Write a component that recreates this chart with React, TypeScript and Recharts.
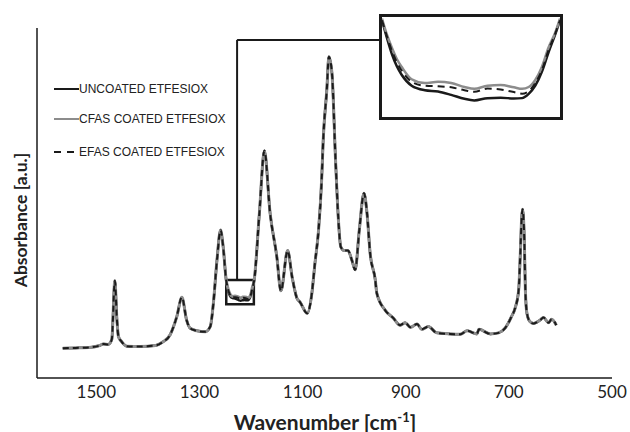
import React from "react";
import {
  LineChart,
  Line,
  XAxis,
  YAxis,
  ReferenceArea,
  ReferenceLine,
} from "recharts";

// shared spectrum (all three samples overlap outside the zoomed window)
const wavenumbers = [
  1565, 1540, 1510, 1495, 1486, 1477, 1470, 1464, 1460, 1457, 1451, 1441, 1415,
  1385, 1372, 1357, 1344, 1334, 1325, 1318, 1305, 1289, 1279, 1273, 1266, 1259,
  1254, 1184, 1174, 1163, 1150, 1142, 1129, 1120, 1111, 1105, 1091, 1082, 1076,
  1069, 1063, 1060, 1053, 1049, 1043, 1036, 1030.5, 1026, 1019.5, 1012, 1004.5,
  998, 990, 981, 975, 969, 959, 956, 940, 924, 911, 901, 891, 878, 869, 856, 840,
  814, 794, 781, 762, 758, 736, 720, 707, 695, 688, 681, 678, 675, 673.5, 670,
  668, 665, 659, 652, 639, 633, 623, 617, 608,
];
const absorbance = [
  8.5, 8.6, 8.8, 9.2, 9.7, 9.6, 11, 27.8, 16.6, 11.8, 10.4, 9.1, 9.0, 9.3, 10.2,
  12.3, 17.5, 23.1, 16.6, 14.2, 13.5, 13.2, 14.7, 21.3, 33.7, 42.3, 37.5, 46.6,
  64.9, 47.1, 34.7, 24.9, 36.4, 28.6, 22.8, 21.7, 18.5, 24.2, 32.8, 42.3, 56.7,
  68, 82.4, 91.8, 87, 62, 45.1, 37.5, 36.4, 36.4, 33.7, 30.9, 42.3, 52.8, 47,
  35.6, 28, 24.2, 19.4, 17.1, 15.1, 15.8, 14.5, 15.4, 13.9, 14.7, 12.9, 12.6,
  12.5, 13.5, 12.6, 13.9, 12.6, 12.9, 14.3, 17.5, 19.9, 25.1, 34.7, 46.1, 48.2,
  39.4, 25.1, 18.5, 16.1, 15.6, 16.6, 17.3, 15.8, 16.8, 15.1,
];

// zoomed window 1248-1194 cm-1
const insetWavenumbers = [
  1248, 1246.5, 1245, 1243.5, 1242, 1239, 1235, 1231, 1227, 1223, 1220, 1216,
  1212, 1208, 1205.5, 1203.5, 1201.5, 1199.5, 1197.5, 1195.5, 1194,
];
const uncoatedInset = [
  27.77, 26.51, 25.37, 24.5, 23.88, 23.12, 22.8, 22.71, 22.47, 22.19, 22.08,
  22.24, 22.26, 22.22, 22.24, 22.54, 23.12, 24.11, 25.48, 26.74, 27.77,
];
const cfasInset = [
  27.89, 26.74, 25.82, 25.02, 24.45, 23.58, 23.31, 23.4, 23.31, 23.03, 22.9,
  23.12, 23.17, 23.01, 22.9, 23.03, 23.53, 24.45, 25.82, 26.86, 27.89,
];
const efasInset = [
  27.77, 26.63, 25.6, 24.79, 24.18, 23.4, 23.12, 23.08, 23.01, 22.8, 22.69,
  22.92, 22.85, 22.67, 22.55, 22.73, 23.31, 24.22, 25.64, 26.79, 27.77,
];

const xTicks = [1500, 1300, 1100, 900, 700, 500];

const BLACK = "#1a1a1a";
const GREY = "#8c8c8c";

const baseRows = wavenumbers.map((w, i) => ({
  w,
  unc: absorbance[i],
  cfas: absorbance[i],
  efas: absorbance[i],
}));
const insetRows = insetWavenumbers.map((w, i) => ({
  w,
  unc: uncoatedInset[i],
  cfas: cfasInset[i],
  efas: efasInset[i],
}));
const rows = [...baseRows, ...insetRows].sort((a, b) => b.w - a.w);

const legendItems = [
  { label: "UNCOATED ETFESIOX", color: BLACK, dash: false, top: 89 },
  { label: "CFAS COATED ETFESIOX", color: GREY, dash: false, top: 119 },
  { label: "EFAS COATED ETFESIOX", color: BLACK, dash: true, top: 152 },
];

export default function App() {
  return (
    <div style={{ position: "absolute", left: 0, top: 0, width: 630, height: 432, background: "#fff" }}>
      <LineChart
        width={630}
        height={432}
        data={rows}
        margin={{ top: 28, right: 18, bottom: 0, left: 37 }}
      >
        <XAxis
          dataKey="w"
          type="number"
          domain={[500, 1615]}
          reversed
          ticks={xTicks}
          interval={0}
          tickLine={false}
          axisLine={{ stroke: BLACK, strokeWidth: 1.5 }}
          height={54}
          tick={{ fontSize: 17, fill: "#222", fontFamily: "Lato" }}
          allowDataOverflow
        />
        <YAxis type="number" domain={[0, 100]} width={0} hide allowDataOverflow />
        {/* y axis line */}
        <ReferenceLine x={1615} stroke={BLACK} strokeWidth={1.5} />
        {/* connector from small box to inset */}
        <ReferenceLine
          segment={[{ x: 1227, y: 28 }, { x: 1227, y: 96.6 }]}
          stroke={BLACK}
          strokeWidth={2}
        />
        <ReferenceLine
          segment={[{ x: 1227, y: 96.6 }, { x: 949, y: 96.6 }]}
          stroke={BLACK}
          strokeWidth={2}
        />
        <Line type="monotone" dataKey="unc" stroke={BLACK} strokeWidth={2.5} dot={false} isAnimationActive={false} />
        <Line type="monotone" dataKey="cfas" stroke={GREY} strokeWidth={3} dot={false} isAnimationActive={false} />
        <Line type="monotone" dataKey="efas" stroke={BLACK} strokeWidth={2} strokeDasharray="6 4" dot={false} isAnimationActive={false} />
        <ReferenceArea
          x1={1248}
          x2={1194.5}
          y1={21.1}
          y2={28}
          fill="none"
          fillOpacity={0}
          stroke={BLACK}
          strokeWidth={2.5}
          ifOverflow="visible"
        />
      </LineChart>

      {/* magnified inset */}
      <div
        style={{
          position: "absolute",
          left: 379,
          top: 14,
          width: 184,
          height: 106,
          boxSizing: "border-box",
          border: `3px solid ${BLACK}`,
          background: "#fff",
        }}
      >
        <LineChart
          width={178}
          height={100}
          data={insetRows}
          margin={{ top: 0, right: 0, bottom: 0, left: 0 }}
        >
          <XAxis dataKey="w" type="number" domain={[1194, 1248]} reversed hide allowDataOverflow />
          <YAxis type="number" domain={[20.9, 28]} hide allowDataOverflow />
          <Line type="monotone" dataKey="unc" stroke={BLACK} strokeWidth={2.5} dot={false} isAnimationActive={false} />
          <Line type="monotone" dataKey="cfas" stroke={GREY} strokeWidth={2.5} dot={false} isAnimationActive={false} />
          <Line type="monotone" dataKey="efas" stroke={BLACK} strokeWidth={2} strokeDasharray="7 5" dot={false} isAnimationActive={false} />
        </LineChart>
      </div>

      {/* legend */}
      {legendItems.map((item) => (
        <div
          key={item.label}
          style={{
            position: "absolute",
            left: 54,
            top: item.top - 8,
            height: 16,
            display: "flex",
            alignItems: "center",
            fontFamily: "Liberation Sans, Arial, sans-serif",
            fontSize: 12,
            color: "#222",
            whiteSpace: "nowrap",
          }}
        >
          <svg width={25} height={4} style={{ display: "block" }}>
            <line
              x1={0}
              y1={2}
              x2={25}
              y2={2}
              stroke={item.color}
              strokeWidth={2}
              strokeDasharray={item.dash ? "7 6" : undefined}
            />
          </svg>
          <span>{item.label}</span>
        </div>
      ))}

      {/* axis titles */}
      <div
        style={{
          position: "absolute",
          left: 20,
          top: 220,
          transform: "translate(-50%, -50%) rotate(-90deg)",
          fontFamily: "Lato, sans-serif",
          fontWeight: 700,
          fontSize: 17.5,
          color: "#222",
          whiteSpace: "nowrap",
        }}
      >
        Absorbance [a.u.]
      </div>
      <div
        style={{
          position: "absolute",
          left: 325,
          top: 421,
          transform: "translate(-50%, -50%)",
          fontFamily: "Lato, sans-serif",
          fontWeight: 700,
          fontSize: 21,
          color: "#222",
          whiteSpace: "nowrap",
        }}
      >
        Wavenumber [cm<sup style={{ fontSize: 13 }}>-1</sup>]
      </div>
    </div>
  );
}
